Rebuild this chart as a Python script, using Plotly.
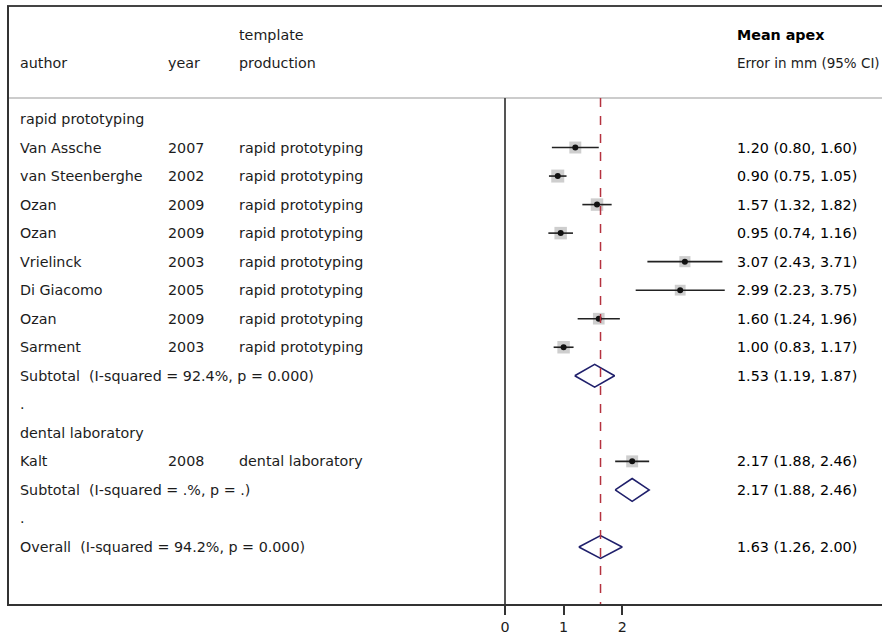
import plotly.graph_objects as go

# ---------------- data ----------------
group1_label = "rapid prototyping"
authors1 = ["Van Assche", "van Steenberghe", "Ozan", "Ozan", "Vrielinck", "Di Giacomo", "Ozan", "Sarment"]
years1 = ["2007", "2002", "2009", "2009", "2003", "2005", "2009", "2003"]
production1 = ["rapid prototyping"] * 8
est1 = [1.20, 0.90, 1.57, 0.95, 3.07, 2.99, 1.60, 1.00]
lo1 = [0.80, 0.75, 1.32, 0.74, 2.43, 2.23, 1.24, 0.83]
hi1 = [1.60, 1.05, 1.82, 1.16, 3.71, 3.75, 1.96, 1.17]
weights1 = [11.0, 13.0, 12.0, 12.0, 9.5, 9.0, 10.5, 12.0]
sub1_label = "Subtotal  (I-squared = 92.4%, p = 0.000)"
sub1 = [1.53, 1.19, 1.87]

group2_label = "dental laboratory"
authors2 = ["Kalt"]
years2 = ["2008"]
production2 = ["dental laboratory"]
est2 = [2.17]
lo2 = [1.88]
hi2 = [2.46]
weights2 = [11.0]
sub2_label = "Subtotal  (I-squared = .%, p = .)"
sub2 = [2.17, 1.88, 2.46]

overall_label = "Overall  (I-squared = 94.2%, p = 0.000)"
overall = [1.63, 1.26, 2.00]

header_top = ["template", "Mean apex"]
header_bottom = ["author", "year", "production", "Error in mm (95% CI)"]
tick_vals = [0, 1, 2]

# ---------------- layout helpers ----------------
W, H = 882, 636
ML = 7                         # left margin (box edge)
MB = 32                        # bottom margin; axis line at y=604
PW = W - ML
PLOT_H = H - MB
ROW0_PX, ROW_STEP = 119, 28.53
X0_PX, X_SCALE = 505, 58.6

def row_of(px):
    return (px - ROW0_PX) / ROW_STEP

def xpaper(px):
    return (px - ML) / PW

y_bottom = (PLOT_H - ROW0_PX) / ROW_STEP
y_top = -ROW0_PX / ROW_STEP
x_min = -(X0_PX - ML) / X_SCALE
x_max = (W - X0_PX) / X_SCALE

FONT = "DejaVu Sans"
FS = 14.3
TXT = "#1c1c1c"

# build rows
rows = []
rows.append(("label", group1_label))
for i in range(len(est1)):
    rows.append(("study", (authors1[i], years1[i], production1[i], est1[i], lo1[i], hi1[i], weights1[i])))
rows.append(("diamond", (sub1_label, *sub1)))
rows.append(("label", "."))
rows.append(("label", group2_label))
for i in range(len(est2)):
    rows.append(("study", (authors2[i], years2[i], production2[i], est2[i], lo2[i], hi2[i], weights2[i])))
rows.append(("diamond", (sub2_label, *sub2)))
rows.append(("label", "."))
rows.append(("diamond", (overall_label, *overall)))

fig = go.Figure()
annotations = []

def add_text(txt, xpx, y, bold=False, color=TXT, size=FS):
    annotations.append(dict(
        text=f"<b>{txt}</b>" if bold else txt, x=xpaper(xpx), xref="paper", y=y, yref="y",
        xanchor="left", yanchor="middle", showarrow=False,
        font=dict(family=FONT, size=size, color=color)))

ci_x, ci_y = [], []
sq_x, sq_y, sq_s = [], [], []
dm_x, dm_y = [], []
HH = 0.4
for r, (kind, p) in enumerate(rows):
    if kind == "label":
        add_text(p, 18, r)
    elif kind == "study":
        a, yr, prod, e, l, h, w = p
        add_text(a, 18, r)
        add_text(yr, 166, r)
        add_text(prod, 237, r)
        add_text(f"{e:.2f} ({l:.2f}, {h:.2f})", 735, r, color="#000000")
        ci_x += [l, h, None]
        ci_y += [r, r, None]
        sq_x.append(e); sq_y.append(r); sq_s.append(3.6 * w ** 0.5)
    else:
        lab, e, l, h = p
        add_text(lab, 18, r)
        add_text(f"{e:.2f} ({l:.2f}, {h:.2f})", 735, r, color="#000000")
        dm_x += [l, e, h, e, l, None]
        dm_y += [r, r - HH, r, r + HH, r, None]

# header
add_text(header_top[0], 237, row_of(35))
add_text(header_top[1], 735, row_of(35), bold=True, color="#000000")
add_text(header_bottom[0], 18, row_of(63))
add_text(header_bottom[1], 166, row_of(63))
add_text(header_bottom[2], 237, row_of(63))
add_text(header_bottom[3], 735, row_of(63), size=13.5)

fig.add_trace(go.Scatter(x=sq_x, y=sq_y, mode="markers", hoverinfo="skip",
                         marker=dict(symbol="square", size=sq_s, color="#b9b9b9", line=dict(width=0))))
fig.add_trace(go.Scatter(x=ci_x, y=ci_y, mode="lines", hoverinfo="skip",
                         line=dict(color="#222222", width=1.6)))
fig.add_trace(go.Scatter(x=sq_x, y=sq_y, mode="markers", hoverinfo="skip",
                         marker=dict(symbol="circle", size=6, color="#111111")))
fig.add_trace(go.Scatter(x=dm_x, y=dm_y, mode="lines", hoverinfo="skip",
                         line=dict(color="#1f1f6b", width=1.6)))

sep_row = row_of(98)
top_row = row_of(6)
shapes = [
    dict(type="line", xref="paper", yref="y", x0=xpaper(8), x1=1, y0=sep_row, y1=sep_row,
         line=dict(color="#cccccc", width=2)),
    dict(type="line", xref="paper", yref="y", x0=xpaper(7), x1=1, y0=top_row, y1=top_row,
         line=dict(color="#444444", width=2)),
    dict(type="line", xref="paper", yref="y", x0=xpaper(8), x1=xpaper(8), y0=top_row, y1=y_bottom,
         line=dict(color="#333333", width=2)),
    dict(type="line", xref="x", yref="y", x0=0, x1=0, y0=sep_row, y1=y_bottom,
         line=dict(color="#555555", width=2)),
    dict(type="line", xref="x", yref="y", x0=overall[0], x1=overall[0], y0=sep_row, y1=y_bottom,
         line=dict(color="#b5323f", width=1.5, dash="dash")),
]

fig.update_layout(
    width=W, height=H, margin=dict(l=ML, r=0, t=0, b=MB),
    paper_bgcolor="white", plot_bgcolor="white", showlegend=False,
    annotations=annotations, shapes=shapes,
    font=dict(family=FONT, size=FS, color=TXT),
    xaxis=dict(range=[x_min, x_max], tickvals=tick_vals, ticks="outside", ticklen=9,
               tickwidth=1.5, tickcolor="#333333", showline=True, linecolor="#333333",
               linewidth=2, showgrid=False, zeroline=False,
               tickfont=dict(family=FONT, size=FS, color=TXT), fixedrange=True),
    yaxis=dict(range=[y_bottom, y_top], showticklabels=False, showgrid=False,
               zeroline=False, showline=False, ticks="", fixedrange=True),
)

fig.write_html("out.html", config={"displayModeBar": False},
               post_script="document.body.style.margin='0';document.body.style.overflow='hidden';")
